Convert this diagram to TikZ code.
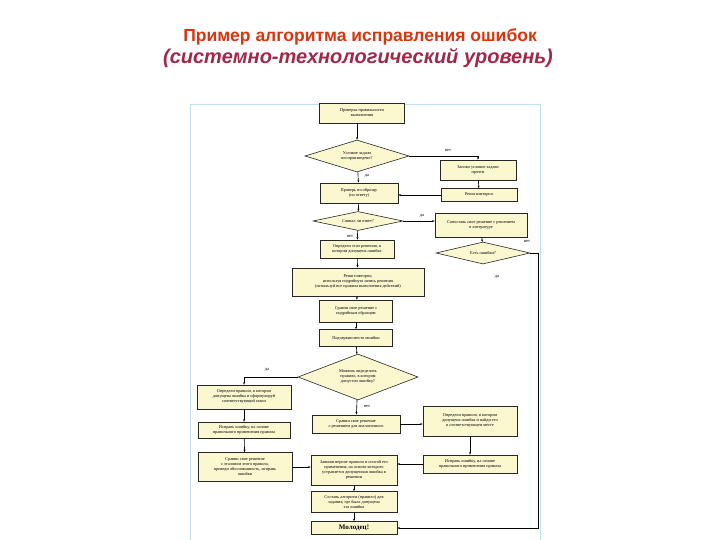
\documentclass[tikz,border=0pt]{standalone}
\usepackage{fontspec}
\setmainfont{Liberation Serif}
\newfontfamily\titlefont{Liberation Sans}
\usetikzlibrary{shapes.geometric,arrows.meta}
\definecolor{boxfill}{HTML}{FBF8CF}
\definecolor{titlered}{HTML}{D8360E}
\definecolor{titlemaroon}{HTML}{A02848}
\definecolor{framblue}{HTML}{BFE2F0}
\tikzset{
  x=1pt,y=-1pt,
  fbox/.style={draw=black!85,fill=boxfill,line width=0.7pt,align=center,inner sep=0.5pt,
    font=\fontsize{4.3}{5}\selectfont},
  fdia/.style={diamond,draw=black!85,fill=boxfill,line width=0.6pt,align=center,inner sep=0pt,aspect=4,
    font=\fontsize{4.3}{5}\selectfont},
  conn/.style={line width=0.6pt,-{Stealth[length=2.5pt,width=2pt]}},
  lbl/.style={font=\fontsize{4.5}{5}\selectfont,inner sep=0.5pt}
}
\begin{document}
\begin{tikzpicture}
\useasboundingbox (0,0) rectangle (720,540);
\fill[white] (0,0) rectangle (720,540);
\node[font=\titlefont\bfseries\fontsize{17.5}{20}\selectfont,text=titlered] (t1) at (360,37) {Пример алгоритма исправления ошибок};
\node[font=\titlefont\bfseries\itshape\fontsize{20}{23}\selectfont,text=titlemaroon] (t2) at (358,58) {(системно-технологический уровень)};
\draw[framblue,line width=0.8pt] (190,104) rectangle (540,560);

\node[fbox,minimum width=85,minimum height=20] (n1) at (362,113) {Проверка правильности\\выполнения};
\node[fdia,minimum width=104,minimum height=32] (d1) at (357,156) {Условие задачи\\воспроизведено?};
\node[fbox,minimum width=76,minimum height=20] (n3) at (478,170) {Заново условие задачи\\прочти};
\node[fbox,minimum width=78,minimum height=20] (n4) at (359,193) {Проверь по образцу\\(по ответу)};
\node[fbox,minimum width=76,minimum height=13] (n5) at (479,195) {Реши повторно};
\node[fdia,minimum width=90,minimum height=19] (d2) at (358,221) {Совпал ли ответ?};
\node[fbox,minimum width=92,minimum height=24] (n7) at (481,225) {Сопоставь свое решение с решением\\в литературе};
\node[fdia,minimum width=94,minimum height=22] (d3) at (483,253) {Есть ошибки?};
\node[fbox,minimum width=74,minimum height=18] (n9) at (357,249) {Определи этап решения, в\\котором допущена ошибка};
\node[fbox,minimum width=132,minimum height=28] (n10) at (358,282) {Реши повторно,\\используя подробную запись решения\\(используй все правила выполнения действий)};
\node[fbox,minimum width=73,minimum height=22] (n11) at (356,311) {Сравни свое решение с\\подробным образцом};
\node[fbox,minimum width=73,minimum height=17] (n12) at (356,338) {Подчеркни место ошибки};
\node[fdia,minimum width=120,minimum height=46] (d4) at (358,377) {Можешь определить\\правило, в котором\\допустил ошибку?};
\node[fbox,minimum width=94,minimum height=24] (n14) at (244,397) {Определи правило, в котором\\допущена ошибка и сформулируй\\соответствующий закон};
\node[fbox,minimum width=92,minimum height=16] (n15) at (244,430) {Исправь ошибку, на основе\\правильного применения правила};
\node[fbox,minimum width=94,minimum height=29] (n16) at (245,467) {Сравни свое решение\\с эталоном этого правила,\\приведи обоснованность, исправь\\ошибки};
\node[fbox,minimum width=88,minimum height=18] (n17) at (356,424) {Сравни свое решение\\с решением для аналогичного};
\node[fbox,minimum width=94,minimum height=30] (n18) at (470,421) {Определи правило, в котором\\допущена ошибка и найди его\\в соответствующем месте};
\node[fbox,minimum width=94,minimum height=18] (n19) at (470,464) {Исправь ошибку, на основе\\правильного применения правила};
\node[fbox,minimum width=86,minimum height=30] (n20) at (354,470) {Запиши верное правило и способ его\\применения, на основе которого\\устраняется допущенная ошибка в\\решении};
\node[fbox,minimum width=86,minimum height=21] (n21) at (354,502) {Составь алгоритм (правило) для\\задания, где была допущена\\эта ошибка};
\node[fbox,minimum width=86,minimum height=13,font=\bfseries\fontsize{7}{8}\selectfont] (n22) at (354,528) {Молодец!};

\coordinate (c1) at (538,253);
\coordinate (c2) at (538,528);

\draw[conn] (n1.south -| d1.north) -- (d1.north);
\draw[conn] (d1.east) -| (n3.north);
\node[lbl] (l1) at (448,150) {нет};
\draw[conn] (d1) -- (n4);
\node[lbl] (l2) at (367,176) {да};
\draw[conn] (n3) -- (n5);
\draw[conn] (n5.west) -- (n4.east |- n5.west);
\draw[conn] (n4) -- (d2);
\draw[conn] (d2.east) -- (n7.west |- d2.east);
\node[lbl] (l3) at (422,216) {да};
\draw[conn] (d2) -- (n9);
\node[lbl] (l4) at (350,236) {нет};
\draw[conn] (n7) -- (d3);
\draw[conn] (d3.east) -- (c1) -- (c2) -- (n22.east);
\node[lbl] (l5) at (527,241) {нет};
\node[lbl] (l6) at (497,277) {да};
\draw[conn] (n9) -- (n10);
\draw[conn] (n10) -- (n11);
\draw[conn] (n11) -- (n12);
\draw[conn] (n12) -- (d4);
\draw[conn] (d4.west) -| (n14.north);
\node[lbl] (l7) at (267,370) {да};
\draw[conn] (d4) -- (n17);
\node[lbl] (l8) at (367,406) {нет};
\draw[conn] (n17.east) -- (n18.west |- n17.east);
\draw[conn] (n18) -- (n19);
\draw[conn] (n19.west) -- (n20.east |- n19.west);
\draw[conn] (n14) -- (n15);
\draw[conn] (n15) -- (n16);
\draw[conn] (n16.east) -- (n20.west |- n16.east);
\draw[conn] (n20) -- (n21);
\draw[conn] (n21) -- (n22);
\end{tikzpicture}
\end{document}
